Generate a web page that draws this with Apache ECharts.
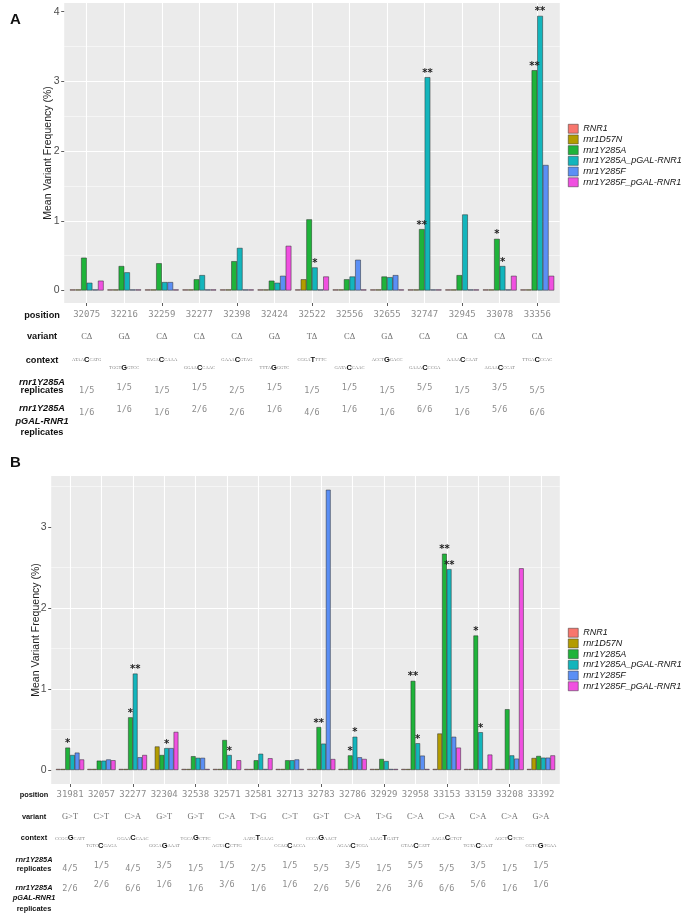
<!DOCTYPE html>
<html><head><meta charset="utf-8">
<script src="https://cdn.jsdelivr.net/npm/echarts@6/dist/echarts.min.js"></script>
<style>html,body{margin:0;padding:0;background:#fff}#c{width:683px;height:920px}</style>
</head><body><div id="c"></div>
<script>
// ---------- shared ----------
const seriesNames = ['RNR1','rnr1D57N','rnr1Y285A','rnr1Y285A_pGAL-RNR1','rnr1Y285F','rnr1Y285F_pGAL-RNR1'];
const seriesColors = ['#F8766D','#B39C00','#1FB33A','#13B5BC','#5B8FF5','#F050E0'];

// ---------- panel A ----------
const positionsA = ['32075','32216','32259','32277','32398','32424','32522','32556','32655','32747','32945','33078','33356'];
const variantsA  = ['CΔ','GΔ','CΔ','CΔ','CΔ','GΔ','TΔ','CΔ','GΔ','CΔ','CΔ','CΔ','CΔ'];
const contextA   = ['ATAACCATG','TGGTGGTCC','TAGACCAAA','GGAACCAAC','GAAACGTAG','TTTAGGGTC','CGGATTTTC','GATACCAAC','ACCTGGACC','GAAACCCGA','AAAACCAAT','AGAACCCAT','TTGACCCAC'];
const repA       = ['1/5','1/5','1/5','1/5','2/5','1/5','1/5','1/5','1/5','5/5','1/5','3/5','5/5'];
const repGalA    = ['1/6','1/6','1/6','2/6','2/6','1/6','4/6','1/6','1/6','6/6','1/6','5/6','6/6'];
const yTicksA    = [0,1,2,3,4];
const a_RNR1     = [0,0,0,0,0,0,0,0,0,0,0,0,0];
const a_D57N     = [0,0,0,0,0,0,0.16,0,0,0,0,0,0];
const a_Y285A    = [0.47,0.35,0.39,0.16,0.42,0.14,1.02,0.16,0.20,0.88,0.22,0.74,3.16];
const a_Y285Ap   = [0.11,0.26,0.12,0.22,0.61,0.11,0.33,0.20,0.19,3.06,1.09,0.35,3.94];
const a_Y285F    = [0,0,0.12,0,0,0.21,0,0.44,0.22,0,0,0,1.80];
const a_Y285Fp   = [0.14,0,0,0,0,0.64,0.20,0,0,0,0,0.21,0.21];
const starsA_Y285A  = ['','','','','','','','','','**','','*','**'];
const starsA_Y285Ap = ['','','','','','','*','','','**','','*','**'];

// ---------- panel B ----------
const positionsB = ['31981','32057','32277','32304','32538','32571','32581','32713','32783','32786','32929','32958','33153','33159','33208','33392'];
const variantsB  = ['G>T','C>T','C>A','G>T','G>T','C>A','T>G','C>T','G>T','C>A','T>G','C>A','C>A','C>A','C>A','G>A'];
const contextB   = ['CCGGGCATT','TGTCCGAGA','GGAACCAAC','GGCAGAAAT','TGCAGCTTC','AGTACCTTG','AATGTGAAG','CCAGCACCA','CCCAGAACT','AGAACTCGA','AAAGTGATT','GTAACCATT','AAGACCTGT','TGTACCAAT','AGCTCTCTC','CGTCGTGAA'];
const repB       = ['4/5','1/5','4/5','3/5','1/5','1/5','2/5','1/5','5/5','3/5','1/5','5/5','5/5','3/5','1/5','1/5'];
const repGalB    = ['2/6','2/6','6/6','1/6','1/6','3/6','1/6','1/6','2/6','5/6','2/6','3/6','6/6','5/6','1/6','1/6'];
const yTicksB    = [0,1,2,3];
const b_RNR1     = [0,0,0,0,0,0,0,0,0,0,0,0,0,0,0,0];
const b_D57N     = [0,0,0,0.29,0,0,0,0,0,0,0,0,0.45,0,0,0.148];
const b_Y285A    = [0.276,0.115,0.65,0.185,0.17,0.37,0.12,0.12,0.53,0.18,0.136,1.10,2.67,1.66,0.75,0.173];
const b_Y285Ap   = [0.185,0.115,1.19,0.27,0.15,0.185,0.20,0.12,0.325,0.41,0.11,0.33,2.48,0.466,0.18,0.152];
const b_Y285F    = [0.214,0.13,0.157,0.27,0.15,0,0,0.13,3.46,0.157,0,0.177,0.41,0,0.14,0.152];
const b_Y285Fp   = [0.13,0.12,0.185,0.47,0,0.12,0.145,0,0.135,0.136,0,0,0.276,0.19,2.49,0.18];
const starsB_Y285A  = ['*','','*','','','','','','**','*','','**','**','*','',''];
const starsB_Y285Ap = ['','','**','*','','*','','','','*','','*','**','*','',''];

const emptyStars = n => new Array(n).fill('');

// ---------- styles ----------
const mono = 'DejaVu Sans Mono';
const posStyle = {fontFamily: mono, fontSize: 9, color: '#8c8c8c'};
const varStyle = {fontFamily: 'Liberation Serif', fontSize: 8.5, color: '#707070'};
const repStyle = {fontFamily: mono, fontSize: 8.5, color: '#8c8c8c'};
const ctxRich = {
  s: {fontFamily: 'Liberation Serif', fontSize: 4.6, color: '#808080', verticalAlign: 'middle'},
  c: {fontFamily: 'Liberation Sans', fontWeight: 'bold', fontSize: 7.5, color: '#111', verticalAlign: 'middle'}
};
const ctxFmt = v => '{s|' + v.slice(0, 4) + '}{c|' + v.charAt(4) + '}{s|' + v.slice(5) + '}';
const ident = v => v;
const evenOnly = f => (v, i) => (i % 2 === 0 ? f(v) : '');
const oddOnly = f => (v, i) => (i % 2 === 1 ? f(v) : '');

const option = {
  animation: false,
  grid: [], xAxis: [], yAxis: [], series: [], legend: [], graphic: []
};

function rowAxis(gridIndex, data, offset, formatter, style, rich) {
  return {
    type: 'category', gridIndex, position: 'bottom', offset, data,
    axisLine: {show: false, onZero: false}, axisTick: {show: false}, splitLine: {show: false},
    axisLabel: Object.assign({interval: 0, margin: 0, verticalAlign: 'middle', formatter, rich}, style)
  };
}

function addPanel(cfg) {
  const gi = option.grid.length, xi = option.xAxis.length, yi = option.yAxis.length;
  const n = cfg.positions.length;
  const band = (cfg.bgRight - cfg.bgLeft) / (n - 1 + 1.2);
  const barLeft = cfg.bgLeft + 0.1 * band;
  const h = cfg.bottom - cfg.top;
  option.grid.push(
    {left: cfg.bgLeft, top: cfg.top, width: cfg.bgRight - cfg.bgLeft, height: h, show: true, backgroundColor: '#EBEBEB', borderWidth: 0},
    {left: barLeft, top: cfg.top, width: n * band, height: h, show: false}
  );
  option.yAxis.push(
    {type: 'value', gridIndex: gi, min: cfg.yMin, max: cfg.yMax, position: 'left',
     axisLine: {show: false, onZero: false},
     axisTick: {show: true, length: 3, customValues: cfg.yTicks, lineStyle: {color: '#333', width: 0.8}},
     axisLabel: {customValues: cfg.yTicks, margin: 4.5, color: '#4d4d4d', fontSize: 10.5, fontFamily: 'Liberation Sans'},
     splitLine: {show: true, showMinLine: false, showMaxLine: false, lineStyle: {color: '#fff', width: 1.1}},
     minorTick: {show: false, splitNumber: 2},
     minorSplitLine: {show: true, lineStyle: {color: '#fff', width: 0.5}},
     name: 'Mean Variant Frequency (%)', nameLocation: 'middle', nameGap: cfg.nameGap, nameMoveOverlap: false,
     nameTextStyle: {fontSize: 10.5, color: '#222', fontFamily: 'Liberation Sans'}},
    {type: 'value', gridIndex: gi + 1, min: cfg.yMin, max: cfg.yMax, show: false, axisLine: {onZero: false}}
  );
  const o = cfg.offsets;
  option.xAxis.push(
    {type: 'value', gridIndex: gi, min: -0.6, max: n - 1 + 0.6, minInterval: 1, maxInterval: 1, splitNumber: n,
     axisLine: {show: false, onZero: false}, axisTick: {show: false}, axisLabel: {show: false},
     splitLine: {show: true, showMinLine: false, showMaxLine: false, lineStyle: {color: '#fff', width: 1.1}}},
    {type: 'category', gridIndex: gi + 1, position: 'bottom', data: cfg.positions,
     axisLine: {show: false, onZero: false}, axisLabel: {show: false}, splitLine: {show: false},
     axisTick: {show: true, alignWithLabel: true, length: 3, lineStyle: {color: '#333', width: 0.8}}},
    rowAxis(gi + 1, cfg.positions, o.pos, ident, posStyle),
    rowAxis(gi + 1, cfg.variants, o.variant, ident, varStyle),
    rowAxis(gi + 1, cfg.context, o.ctxEven, evenOnly(ctxFmt), {}, ctxRich),
    rowAxis(gi + 1, cfg.context, o.ctxOdd, oddOnly(ctxFmt), {}, ctxRich),
    rowAxis(gi + 1, cfg.rep, o.repEven, evenOnly(ident), repStyle),
    rowAxis(gi + 1, cfg.rep, o.repOdd, oddOnly(ident), repStyle),
    rowAxis(gi + 1, cfg.repGal, o.galEven, evenOnly(ident), repStyle),
    rowAxis(gi + 1, cfg.repGal, o.galOdd, oddOnly(ident), repStyle)
  );
  seriesNames.forEach((name, k) => {
    const stars = cfg.stars[k];
    option.series.push({
      type: 'bar', name, xAxisIndex: xi + 1, yAxisIndex: yi + 1, data: cfg.values[k],
      barGap: '0%', barCategoryGap: '10%', barMinHeight: 1,
      itemStyle: {color: seriesColors[k], borderColor: '#2a2a2a', borderWidth: 0.5},
      label: {show: true, position: 'top', distance: -1, formatter: p => stars[p.dataIndex] || '',
              fontSize: 10, fontWeight: 'bold', color: '#222', fontFamily: 'DejaVu Sans'},
      emphasis: {disabled: true}, silent: true
    });
  });
  option.legend.push({
    data: seriesNames, orient: 'vertical', left: 568, top: cfg.legendTop, padding: 0,
    itemWidth: 10, itemHeight: 9, itemGap: 1.2, icon: 'rect', selectedMode: false,
    itemStyle: {borderColor: '#333', borderWidth: 0.5},
    textStyle: {fontSize: 9, fontStyle: 'italic', color: '#111', fontFamily: 'Liberation Sans', lineHeight: 9, overflow: 'none'}
  });
  // row captions and panel letter
  const cap = (text, y, italic) => ({
    type: 'text', x: cfg.capX, y, silent: true,
    style: {text, align: 'center', verticalAlign: 'middle', fontSize: cfg.capSize, fontWeight: 'bold',
            fontStyle: italic ? 'italic' : 'normal', fontFamily: 'Liberation Sans', fill: '#111'}
  });
  const b = cfg.bottom, c = cfg.captions;
  option.graphic.push(
    {type: 'text', x: 10, y: cfg.letterY, silent: true,
     style: {text: cfg.letter, fontSize: 15, fontWeight: 'bold', fontFamily: 'Liberation Sans', fill: '#111'}},
    cap('position', b + o.pos),
    cap('variant', b + o.variant),
    cap('context', c.context),
    cap('rnr1Y285A', c.rep1, true),
    cap('replicates', c.rep2),
    cap('rnr1Y285A', c.gal1, true),
    cap('pGAL-RNR1', c.gal2, true),
    cap('replicates', c.gal3)
  );
}

addPanel({
  letter: 'A', letterY: 12, capX: 42, capSize: 9.2,
  positions: positionsA, variants: variantsA, context: contextA, rep: repA, repGal: repGalA,
  values: [a_RNR1, a_D57N, a_Y285A, a_Y285Ap, a_Y285F, a_Y285Fp],
  stars: [emptyStars(13), emptyStars(13), starsA_Y285A, starsA_Y285Ap, emptyStars(13), emptyStars(13)],
  bgLeft: 64.2, bgRight: 559.8, top: 3, bottom: 303, yMin: -0.18, yMax: 4.125, yTicks: yTicksA, nameGap: 11,
  offsets: {pos: 12, variant: 33.5, ctxEven: 56.5, ctxOdd: 65, repEven: 88, repOdd: 84.5, galEven: 110, galOdd: 106.5},
  captions: {context: 360, rep1: 382, rep2: 390.7, gal1: 408.3, gal2: 421, gal3: 432.7},
  legendTop: 124
});
addPanel({
  letter: 'B', letterY: 455, capX: 34, capSize: 7.4,
  positions: positionsB, variants: variantsB, context: contextB, rep: repB, repGal: repGalB,
  values: [b_RNR1, b_D57N, b_Y285A, b_Y285Ap, b_Y285F, b_Y285Fp],
  stars: [emptyStars(16), emptyStars(16), starsB_Y285A, starsB_Y285Ap, emptyStars(16), emptyStars(16)],
  bgLeft: 51.2, bgRight: 559.8, top: 476, bottom: 784, yMin: -0.173, yMax: 3.63, yTicks: yTicksB, nameGap: 10,
  offsets: {pos: 11, variant: 32.7, ctxEven: 54.3, ctxOdd: 62, repEven: 85, repOdd: 81.5, galEven: 104.3, galOdd: 101},
  captions: {context: 838, rep1: 860, rep2: 869, gal1: 888.3, gal2: 898.3, gal3: 909.3},
  legendTop: 628
});

const chart = echarts.init(document.getElementById('c'), null, {renderer: 'canvas'});
chart.setOption(option);
</script>
</body></html>
